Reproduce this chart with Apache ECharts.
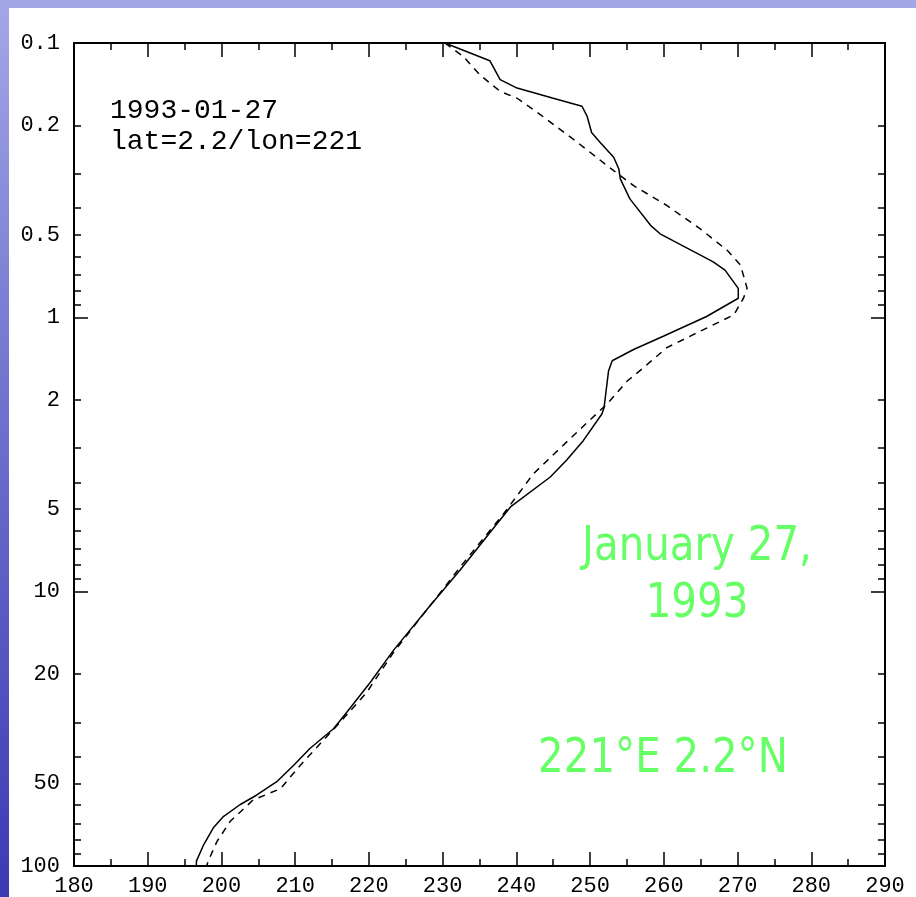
<!DOCTYPE html>
<html>
<head>
<meta charset="utf-8">
<script src="https://cdn.jsdelivr.net/npm/echarts@6/dist/echarts.min.js"></script>
<style>
  html, body { margin: 0; padding: 0; width: 916px; height: 897px; overflow: hidden; }
  body { background: linear-gradient(to bottom, #a4a7e6 0%, #7478d0 40%, #3a3ab4 100%); position: relative; }
  #chart { position: absolute; left: 9px; top: 8px; width: 907px; height: 889px; background: #ffffff; }
</style>
</head>
<body>
<div id="chart"></div>
<script>
// ---- Data (temperature K vs pressure hPa) ----
const solidTemp = [230.3, 236.4, 237.8, 240.1, 245.0, 248.9, 249.6, 250.2, 251.4, 253.2, 253.9, 254.1, 255.4, 258.2, 259.5, 266.7, 268.3, 270.1, 270.1, 265.8, 260.0, 255.9, 253.0, 252.5, 251.9, 251.6, 249.1, 246.8, 244.6, 239.2, 237.4, 232.4, 227.9, 223.3, 220.2, 217.0, 215.2, 212.0, 209.8, 207.5, 204.8, 202.5, 200.3, 198.9, 197.6, 196.6, 196.6];
const solidPres = [0.1, 0.116, 0.136, 0.146, 0.159, 0.170, 0.185, 0.212, 0.231, 0.261, 0.288, 0.313, 0.370, 0.462, 0.496, 0.628, 0.673, 0.784, 0.852, 0.993, 1.17, 1.31, 1.44, 1.57, 2.13, 2.25, 2.81, 3.32, 3.82, 4.91, 5.64, 8.32, 11.6, 16.4, 21.4, 27.5, 31.6, 37.3, 42.9, 49.3, 55.1, 59.8, 65.9, 72.6, 83.5, 96, 100];
const dashTemp = [230.3, 232.8, 235.1, 237.8, 240.1, 243.2, 247.7, 253.2, 255.9, 260.4, 264.9, 268.6, 270.4, 271.3, 270.8, 269.5, 264.9, 260.4, 257.2, 255.0, 252.3, 248.9, 246.8, 242.3, 238.3, 232.8, 227.9, 223.3, 219.7, 216.1, 210.7, 208.0, 204.3, 201.2, 199.4, 198.2, 198.0];
const dashPres = [0.1, 0.112, 0.131, 0.150, 0.159, 0.182, 0.224, 0.292, 0.331, 0.391, 0.475, 0.570, 0.645, 0.784, 0.852, 0.979, 1.125, 1.29, 1.53, 1.71, 2.07, 2.52, 2.85, 3.72, 5.19, 7.87, 11.6, 16.7, 23.3, 29.9, 42.9, 52.3, 57.4, 68.7, 81.3, 96, 100];

const yLabelValues = [0.1, 0.2, 0.5, 1, 2, 5, 10, 20, 50, 100];
const yMajorTicks = [0.1, 1, 10, 100];
const yMinorTicks = [0.2, 0.3, 0.4, 0.5, 0.6, 0.7, 0.8, 0.9, 2, 3, 4, 5, 6, 7, 8, 9, 20, 30, 40, 50, 60, 70, 80, 90];
const xMin = 180, xMax = 290, xStep = 10;

const dateText = '1993-01-27';
const posText = 'lat=2.2/lon=221';
const greenDate = 'January 27,\n1993';
const greenPos = '221\u00B0E 2.2\u00B0N';

// ---- Build ----
const zip = (a, b) => a.map((v, i) => [v, b[i]]);
const monoFont = '"Liberation Mono", "DejaVu Sans Mono", monospace';

function yAxisCfg(pos, ticks, len, labels, line) {
  return {
    type: 'log', logBase: 10, min: 0.1, max: 100, inverse: true, position: pos,
    axisLine: { show: line, lineStyle: { color: '#000', width: 2 } },
    axisTick: { show: true, inside: true, length: len, customValues: ticks, lineStyle: { color: '#000', width: 1.5 } },
    axisLabel: labels ? {
      show: true, customValues: yLabelValues, margin: 14,
      fontFamily: monoFont, fontSize: 22, color: '#000',
      formatter: v => String(+(+v).toPrecision(3))
    } : { show: false },
    splitLine: { show: false }, minorTick: { show: false }
  };
}
function xAxisCfg(pos, labels) {
  return {
    type: 'value', min: xMin, max: xMax, interval: xStep, position: pos,
    axisLine: { show: true, onZero: false, lineStyle: { color: '#000', width: 2 } },
    axisTick: { show: true, inside: true, length: 14, lineStyle: { color: '#000', width: 1.5 } },
    minorTick: { show: true, splitNumber: 2, length: 7, lineStyle: { color: '#000', width: 1.5 } },
    axisLabel: labels ? { show: true, margin: 9, fontFamily: monoFont, fontSize: 22, color: '#000' } : { show: false },
    splitLine: { show: false }, minorSplitLine: { show: false }
  };
}

const chart = echarts.init(document.getElementById('chart'), null, { renderer: 'canvas' });
chart.setOption({
  animation: false,
  backgroundColor: '#ffffff',
  grid: { left: 65, right: 31, top: 35, bottom: 25, containLabel: false },
  xAxis: [xAxisCfg('bottom', true), xAxisCfg('top', false)],
  yAxis: [
    yAxisCfg('left', yMajorTicks, 14, true, true),
    yAxisCfg('left', yMinorTicks, 7, false, false),
    yAxisCfg('right', yMajorTicks, 14, false, true),
    yAxisCfg('right', yMinorTicks, 7, false, false)
  ],
  series: [
    {
      type: 'line', xAxisIndex: 0, yAxisIndex: 0, data: zip(solidTemp, solidPres),
      showSymbol: false, symbol: 'none', smooth: false,
      lineStyle: { color: '#000', width: 1.5, type: 'solid' }
    },
    {
      type: 'line', xAxisIndex: 0, yAxisIndex: 0, data: zip(dashTemp, dashPres),
      showSymbol: false, symbol: 'none', smooth: false,
      lineStyle: { color: '#000', width: 1.5, type: [7, 6] }
    }
  ],
  graphic: [
    { type: 'text', left: 101, top: 89, style: { text: dateText, font: '28px "Liberation Mono", monospace', fill: '#000' } },
    { type: 'text', left: 101, top: 120, style: { text: posText, font: '28px "Liberation Mono", monospace', fill: '#000' } },
    { type: 'text', x: 688, y: 568, scaleX: 0.84, style: { text: greenDate, font: '48px "DejaVu Sans", sans-serif', fill: '#66ff66', align: 'center', verticalAlign: 'middle', lineHeight: 57 } },
    { type: 'text', x: 654, y: 752, scaleX: 0.84, style: { text: greenPos, font: '48px "DejaVu Sans", sans-serif', fill: '#66ff66', align: 'center', verticalAlign: 'middle' } }
  ]
});
</script>
</body>
</html>
